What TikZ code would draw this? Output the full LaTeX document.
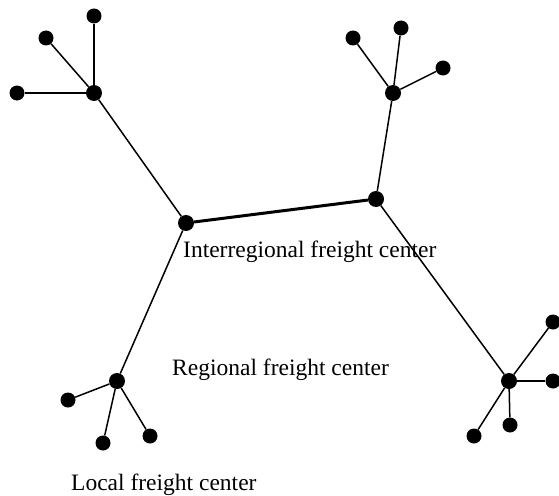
\documentclass[tikz,border=0pt]{standalone}
\usepackage{fontspec}
\setmainfont{Liberation Serif}
\begin{document}
\begin{tikzpicture}[x=1pt,y=-1pt,
  hub/.style={circle,fill=black,inner sep=0pt,minimum size=16pt},
  leaf/.style={circle,fill=black,inner sep=0pt,minimum size=15pt},
  link/.style={line width=1.5pt},
  trunk/.style={line width=3pt},
  lbl/.style={anchor=base west,inner sep=0pt,font=\fontsize{23.5}{28}\selectfont}]
\useasboundingbox (0,0) rectangle (559,495);
% interregional centers
\node[hub] (A) at (186,223) {};
\node[hub] (B) at (376,199) {};
% regional centers
\node[hub] (C) at (94,93) {};
\node[hub] (D) at (393,93) {};
\node[hub] (E) at (117,381) {};
\node[hub] (F) at (509,381) {};
% local centers
\node[leaf] (c1) at (94,16) {};
\node[leaf] (c2) at (46,38) {};
\node[leaf] (c3) at (17,93) {};
\node[leaf] (d1) at (401,28) {};
\node[leaf] (d2) at (353,38) {};
\node[leaf] (d3) at (443,68) {};
\node[leaf] (e1) at (68,400) {};
\node[leaf] (e2) at (103,443) {};
\node[leaf] (e3) at (150,436) {};
\node[leaf] (f1) at (553,322) {};
\node[leaf] (f2) at (553,381) {};
\node[leaf] (f3) at (510,425) {};
\node[leaf] (f4) at (474,436) {};
% connections
\draw[trunk] (A) -- (B);
\draw[link] (A) -- (C);
\draw[link] (A) -- (E);
\draw[link] (B) -- (D);
\draw[link] (B) -- (F);
\foreach \l in {c1,c2,c3} \draw[link] (C) -- (\l);
\foreach \l in {d1,d2,d3} \draw[link] (D) -- (\l);
\foreach \l in {e1,e2,e3} \draw[link] (E) -- (\l);
\foreach \l in {f1,f2,f3,f4} \draw[link] (F) -- (\l);
% labels
\node[lbl] (t1) at (183,257) {Interregional freight center};
\node[lbl] (t2) at (172,375) {Regional freight center};
\node[lbl] (t3) at (71,490) {Local freight center};
\end{tikzpicture}
\end{document}
